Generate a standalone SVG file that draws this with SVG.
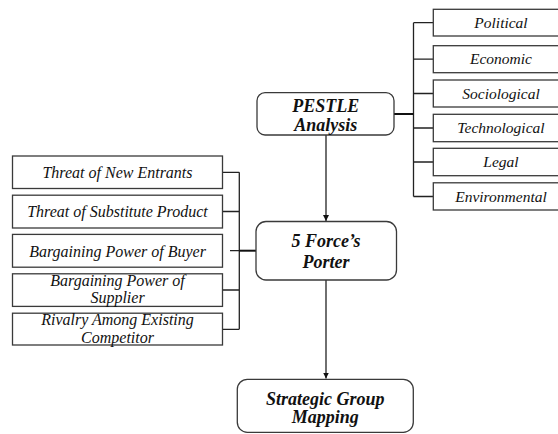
<svg xmlns="http://www.w3.org/2000/svg" width="558" height="434" viewBox="0 0 558 434">
<style>
.box{fill:#fff;stroke:#3a3a3a;stroke-width:1.3}
.rbox{fill:#fff;stroke:#3a3a3a;stroke-width:1.3}
.t{font-family:'Liberation Serif','Times New Roman','DejaVu Serif',serif;font-style:italic;fill:#111;text-anchor:middle}
.s{font-size:16px}
.r{font-size:15.5px}
.b{font-size:18px;font-weight:bold}
.ln{fill:none;stroke:#222;stroke-width:1.3}
.lt{fill:none;stroke:#111;stroke-width:2}
</style>
<defs>
<marker id="ah" viewBox="0 0 10 10" refX="10" refY="5" markerWidth="6" markerHeight="6" markerUnits="userSpaceOnUse" orient="auto"><path d="M0,0 L10,5 L0,10 z" fill="#111"/></marker>
</defs>
<rect width="558" height="434" fill="#fff"/>
<g id="connectors">
<path class="ln" d="M413.5,22.7 V196.5 M413.5,22.7 H433 M413.5,59.2 H433 M413.5,93.5 H433 M413.5,128 H433 M413.5,162 H433 M413.5,196.5 H433"/>
<path class="lt" d="M394,114 H413.5"/>
<path class="ln" d="M239.3,172.3 V329.3 M222.5,172.3 H239.3 M222.5,211.5 H239.3 M230,250.7 H239.3 M222.5,290 H239.3 M222.5,329.3 H239.3"/>
<path class="lt" d="M239.3,250.7 H256"/>
<path class="ln" d="M326,135 V221" marker-end="url(#ah)"/>
<path class="ln" d="M326,280 V378.5" marker-end="url(#ah)"/>
</g>
<g font-family="Liberation Serif, Times New Roman, serif">
<g id="pestle">
<rect class="box" x="257" y="92.7" width="137" height="42.3" rx="8"/>
<text class="t b" x="325.7" y="111.7">PESTLE</text>
<text class="t b" x="325.7" y="130.5">Analysis</text>
</g>
<g id="porter">
<rect class="box" x="256" y="221.5" width="140.5" height="58.5" rx="10"/>
<text class="t b" x="326" y="246.7">5 Force’s</text>
<text class="t b" x="326" y="268.3">Porter</text>
</g>
<g id="strategic">
<rect class="box" x="237.3" y="379.3" width="176" height="53" rx="10"/>
<text class="t b" x="325.3" y="404.5">Strategic Group</text>
<text class="t b" x="325.3" y="422.5">Mapping</text>
</g>
<g id="political"><rect class="rbox" x="433.3" y="9.3" width="136" height="26.7"/><text class="t r" x="501" y="27.8">Political</text></g>
<g id="economic"><rect class="rbox" x="433.3" y="45.7" width="136" height="27"/><text class="t r" x="501" y="64.3">Economic</text></g>
<g id="sociological"><rect class="rbox" x="433.3" y="80" width="136" height="27"/><text class="t r" x="501" y="98.6">Sociological</text></g>
<g id="technological"><rect class="rbox" x="433.3" y="114.3" width="136" height="27.4"/><text class="t r" x="501" y="133.2">Technological</text></g>
<g id="legal"><rect class="rbox" x="433.3" y="148.3" width="136" height="27.4"/><text class="t r" x="501" y="167.2">Legal</text></g>
<g id="environmental"><rect class="rbox" x="433.3" y="182.8" width="136" height="27.2"/><text class="t r" x="501" y="201.6">Environmental</text></g>
<g id="new-entrants"><rect class="box" x="12.5" y="156" width="210" height="32.5"/><text class="t s" x="117.5" y="177.6">Threat of New Entrants</text></g>
<g id="substitute"><rect class="box" x="12.5" y="195.2" width="210" height="32.8"/><text class="t s" x="117.5" y="217.2">Threat of Substitute Product</text></g>
<g id="buyer"><rect class="box" x="12.5" y="234.4" width="210" height="32.8"/><text class="t s" x="117.5" y="256.5">Bargaining Power of Buyer</text></g>
<g id="supplier"><rect class="box" x="12.5" y="273.8" width="210" height="32.6"/><text class="t s" x="117.5" y="286">Bargaining Power of</text><text class="t s" x="117.5" y="302.8">Supplier</text></g>
<g id="rivalry"><rect class="box" x="12.5" y="313.2" width="210" height="31.8"/><text class="t s" x="117.5" y="325.3">Rivalry Among Existing</text><text class="t s" x="117.5" y="342.5">Competitor</text></g>
</g>
</svg>
